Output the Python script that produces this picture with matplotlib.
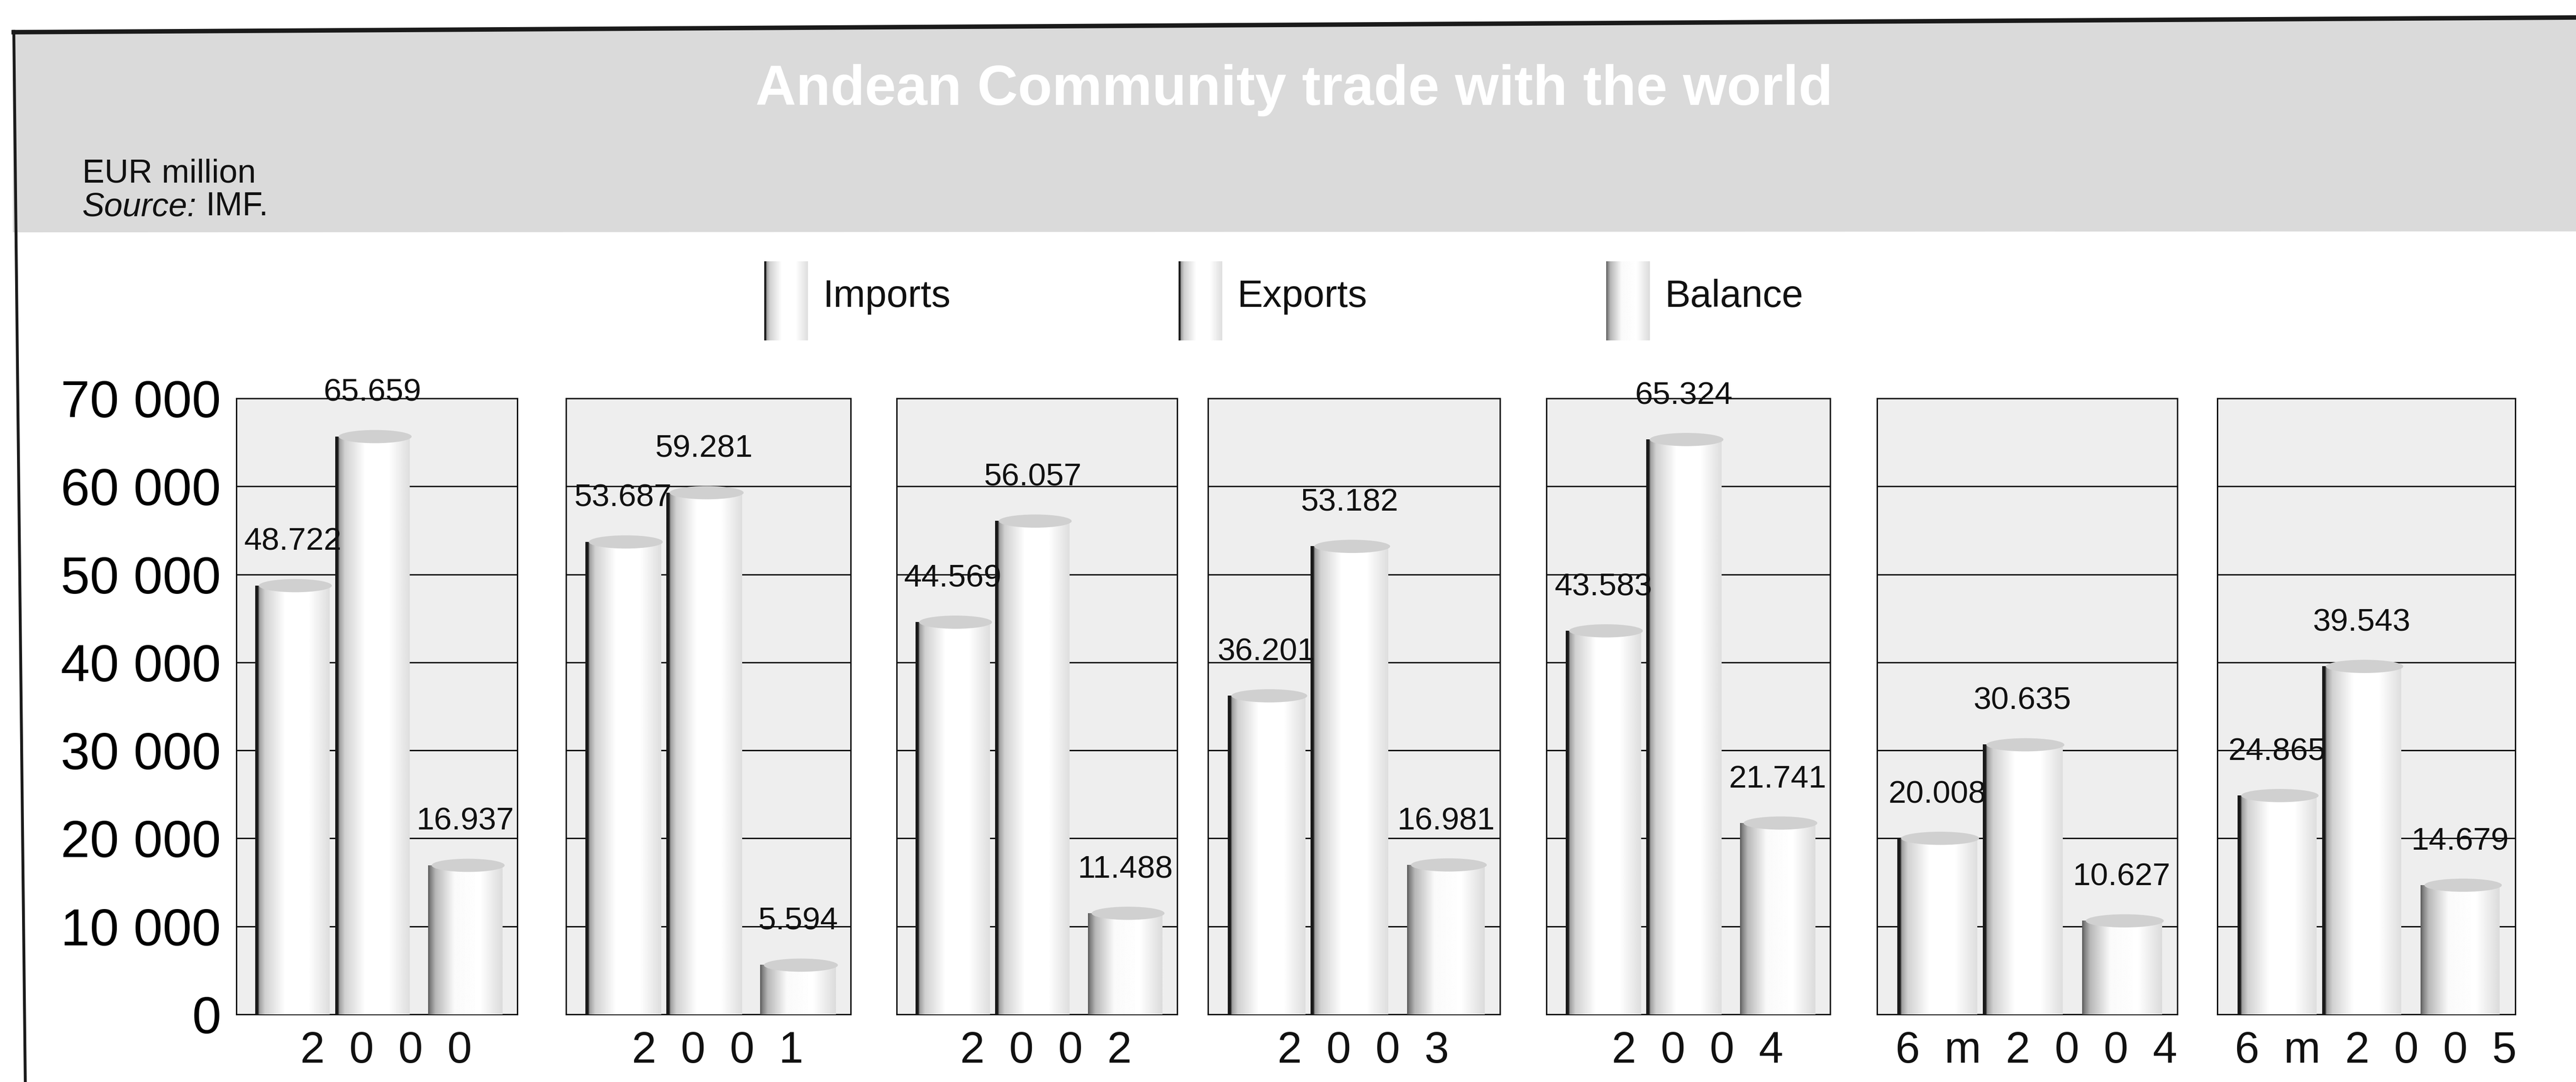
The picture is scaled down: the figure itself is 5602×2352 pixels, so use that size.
import numpy as np
import matplotlib
matplotlib.use("Agg")
import matplotlib.pyplot as plt
from matplotlib.patches import Ellipse, Polygon

W, H = 5602, 2352

# EUR million
periods = ["2000", "2001", "2002", "2003", "2004", "6m 2004", "6m 2005"]
imports = [48722, 53687, 44569, 36201, 43583, 20008, 24865]
exports = [65659, 59281, 56057, 53182, 65324, 30635, 39543]
balance = [16937, 5594, 11488, 16981, 21741, 10627, 14679]
series_names = ["Imports", "Exports", "Balance"]
y_ticks = [0, 10000, 20000, 30000, 40000, 50000, 60000, 70000]

# panel boxes in pixels
panel_left = [514, 1231, 1950, 2627, 3363, 4082, 4822]
panel_right = [1125, 1850, 2560, 3262, 3980, 4735, 5470]
panel_top, panel_bottom = 866, 2205

bar_pos = [0.2, 0.484, 0.815]
bar_w = 0.265

SANS = ["Liberation Sans", "DejaVu Sans"]
NARROW = ["Liberation Sans Narrow", "DejaVu Sans Condensed", "Liberation Sans"]


def shade(kind, n=300):
    t = np.linspace(0, 1, n)
    if kind == "balance":
        return np.interp(t, [0, 0.03, 0.1, 0.35, 0.7, 1.0],
                         [0.35, 0.5, 0.72, 0.98, 1.0, 0.86])
    return np.interp(t, [0, 0.035, 0.055, 0.13, 0.4, 0.72, 1.0],
                     [0.1, 0.1, 0.62, 0.82, 1.0, 1.0, 0.87])


def cylinder(ax, xc, h, kind):
    x0, x1 = xc - bar_w / 2, xc + bar_w / 2
    ax.imshow(shade(kind)[None, :], extent=(x0, x1, 0, h), aspect="auto",
              cmap="gray", vmin=0, vmax=1, interpolation="bilinear", zorder=3)
    ax.add_patch(Ellipse((xc + 0.01, h), bar_w * 0.98, 1500,
                         facecolor="#d0d0d0", edgecolor="none", zorder=4))


fig = plt.figure(figsize=(W / 100, H / 100), dpi=100)
fig.patch.set_facecolor("white")

bg = fig.add_axes([0, 0, 1, 1])
bg.set_xlim(0, W)
bg.set_ylim(H, 0)
bg.axis("off")

# header band and frame
bg.add_patch(Polygon([(28, 72), (W, 40), (W, 503), (28, 505)],
                     closed=True, facecolor="#dadada", edgecolor="none"))
bg.plot([25, W], [70, 38], color="#1a1a1a", lw=7, solid_capstyle="butt")
bg.plot([30, 55], [68, H], color="#1a1a1a", lw=4.5)

bg.text(2814, 196, "Andean Community trade with the world", ha="center",
        va="center", fontsize=88, fontweight="bold", color="white", family=SANS)
bg.text(179, 378, "EUR million", ha="left", va="center", fontsize=52,
        family=SANS, color="#111111")
bg.text(179, 450, "Source:", ha="left", va="center", fontsize=52,
        family=SANS, style="italic", color="#111111")
bg.text(447, 450, "IMF.", ha="left", va="center", fontsize=52,
        family=SANS, color="#111111")

# legend
legend_x = [1662, 2563, 3493]
legend_kind = ["imports", "exports", "balance"]
for lx, name, kind in zip(legend_x, series_names, legend_kind):
    bg.imshow(shade(kind)[None, :], extent=(lx, lx + 95, 740, 568),
              aspect="auto", cmap="gray", vmin=0, vmax=1,
              interpolation="bilinear")
    bg.text(lx + 127, 645, name, ha="left", va="center", fontsize=60,
            family=SANS, color="#111111")
bg.set_xlim(0, W)
bg.set_ylim(H, 0)

for i, period in enumerate(periods):
    l, r = panel_left[i], panel_right[i]
    ax = fig.add_axes([l / W, 1 - panel_bottom / H, (r - l) / W,
                       (panel_bottom - panel_top) / H])
    ax.set_facecolor("#eeeeee")
    ax.set_xlim(0, 1)
    ax.set_ylim(0, 70000)
    ax.set_yticks(y_ticks)
    ax.set_xticks([])
    ax.set_axisbelow(True)
    ax.grid(axis="y", color="#111111", lw=2.2)
    for s in ax.spines.values():
        s.set_color("#111111")
        s.set_linewidth(2.2)
    ax.tick_params(axis="y", length=0, pad=24)
    if i == 0:
        ax.set_yticklabels([f"{v:,}".replace(",", " ") for v in y_ticks],
                           fontsize=82, family=SANS)
    else:
        ax.set_yticklabels([])

    vals = [imports[i], exports[i], balance[i]]
    for xc, v, kind in zip(bar_pos, vals, legend_kind):
        cylinder(ax, xc, v, kind)
        ax.text(xc, v + 3300, f"{v:,}".replace(",", "."), ha="center",
                va="bottom", fontsize=50, family=NARROW, color="#111111",
                clip_on=False, zorder=5)
    ax.set_xlim(0, 1)
    ax.set_ylim(0, 70000)

    bg.text((l + r) / 2 + 20, 2285, "  ".join(period.replace(" ", "")),
            ha="center", va="center", fontsize=69, family=SANS,
            color="#111111")

fig.savefig("out.png", dpi=100)
